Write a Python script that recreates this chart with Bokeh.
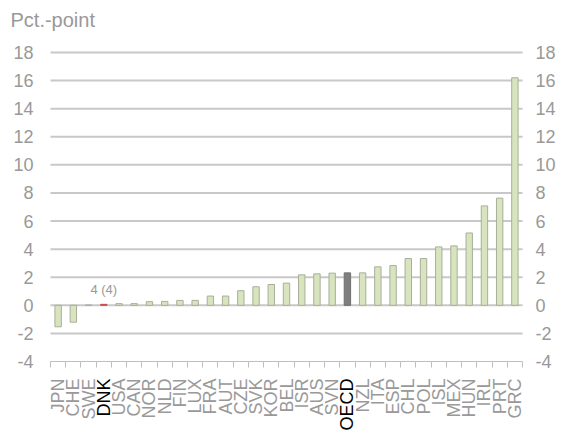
import math
from bokeh.plotting import figure
from bokeh.models import Range1d, FixedTicker, LinearAxis, Label
from bokeh.embed import file_html
from bokeh.resources import INLINE

countries = ["JPN", "CHE", "SWE", "DNK", "USA", "CAN", "NOR", "NLD", "FIN", "LUX",
             "FRA", "AUT", "CZE", "SVK", "KOR", "BEL", "ISR", "AUS", "SVN", "OECD",
             "NZL", "ITA", "ESP", "CHL", "POL", "ISL", "MEX", "HUN", "IRL", "PRT", "GRC"]
values = [-1.53, -1.2, 0.02, 0.07, 0.12, 0.12, 0.26, 0.28, 0.35, 0.35,
          0.66, 0.66, 1.04, 1.32, 1.48, 1.58, 2.17, 2.24, 2.29, 2.31,
          2.31, 2.74, 2.83, 3.33, 3.33, 4.16, 4.23, 5.15, 7.08, 7.63, 16.2]
y_ticks = [-4, -2, 0, 2, 4, 6, 8, 10, 12, 14, 16, 18]
highlight = {"DNK": "#c0504d", "OECD": "#7f7f7f", "SWE": "#bfbfbf"}
black_labels = ["DNK", "OECD"]
annotation_text = "4 (4)"
annotation_country = "DNK"
annotation_value = 1.1
unit_label = "Pct.-point"

GRAY = "#999999"
FONT = "Liberation Sans"

# layout (screen pixels)
W, H = 565, 430
LEFT, RIGHT = 50, 522      # plot area edges
TOP, BOTTOM = 52, 361      # pixel rows of the top and bottom y ticks
n = len(countries)
ppc = (RIGHT - LEFT) / n
ppu = (BOTTOM - TOP) / (y_ticks[-1] - y_ticks[0])
x_lo, x_hi = -0.5, n - 0.5
x_range = Range1d(x_lo - LEFT / ppc, x_hi + (W - RIGHT) / ppc)
y_range = Range1d(y_ticks[0] - (H - BOTTOM) / ppu, y_ticks[-1] + TOP / ppu)

xs = list(range(n))
fills = [highlight.get(c, "#d7e4bd") for c in countries]
lines = ["#6f6f6f" if c == "OECD" else ("#c0504d" if c == "DNK" else "#a9ae9a") for c in countries]

p = figure(width=W, height=H, output_backend="svg", toolbar_location=None,
           x_range=x_range, y_range=y_range,
           min_border_left=0, min_border_right=0, min_border_top=0, min_border_bottom=0)
p.outline_line_color = None
p.background_fill_color = "white"
p.border_fill_color = "white"
p.grid.visible = False

# horizontal gridlines limited to the plot area
grid_y = y_ticks[1:]
p.segment(x0=[x_lo] * len(grid_y), x1=[x_hi] * len(grid_y), y0=grid_y, y1=grid_y,
          line_color="#c8c8c8", line_width=2, level="underlay")
# category axis line
p.segment(x0=[x_lo], x1=[x_hi], y0=[y_ticks[0]], y1=[y_ticks[0]],
          line_color="#bfbfbf", line_width=1, level="underlay")

p.vbar(x=xs, top=values, bottom=0, width=0.42, fill_color=fills, line_color=lines, line_width=1)

minor = [i - 0.5 for i in range(n + 1)]

# x axis (gray labels), drawn at value -4
xa = p.xaxis[0]
xa.fixed_location = y_ticks[0]
xa.ticker = FixedTicker(ticks=xs, minor_ticks=minor)
xa.major_label_overrides = {i: ("" if c in black_labels else c) for i, c in enumerate(countries)}
xa.axis_line_color = None
xa.minor_tick_line_color = "#bfbfbf"
xa.major_label_text_color = GRAY

# overlay axis (black labels)
xb = LinearAxis(fixed_location=y_ticks[0], ticker=FixedTicker(ticks=xs, minor_ticks=minor))
xb.major_label_overrides = {i: (c if c in black_labels else "") for i, c in enumerate(countries)}
xb.axis_line_color = None
xb.minor_tick_line_color = None
xb.major_label_text_color = "black"
p.add_layout(xb, "below")

for ax in (xa, xb):
    ax.major_label_orientation = math.pi / 2
    ax.major_label_text_font = FONT
    ax.major_label_text_font_size = "18px"
    ax.major_label_standoff = 11
    ax.major_tick_line_color = None
    ax.major_tick_in = 0
    ax.major_tick_out = 6
    ax.minor_tick_in = 0
    ax.minor_tick_out = 6

# y axes, fixed at the plot-area edges
ya = p.yaxis[0]
ya.fixed_location = x_lo
yr = LinearAxis(fixed_location=x_hi)
p.add_layout(yr, "right")
for ax in (ya, yr):
    ax.ticker = FixedTicker(ticks=y_ticks)
    ax.major_label_overrides = {t: str(t) for t in y_ticks}
    ax.axis_line_color = None
    ax.major_tick_line_color = None
    ax.minor_tick_line_color = None
    ax.major_tick_in = 0
    ax.major_tick_out = 0
    ax.minor_tick_in = 0
    ax.minor_tick_out = 0
    ax.major_label_text_font = FONT
    ax.major_label_text_font_size = "18px"
    ax.major_label_text_color = GRAY
ya.major_label_standoff = 17
yr.major_label_standoff = 13

# unit label at the top left
p.add_layout(Label(x=x_lo - 40 / ppc, y=y_ticks[-1] + 33 / ppu, text=unit_label,
                   text_align="left", text_baseline="middle",
                   text_font=FONT, text_font_size="20px", text_color=GRAY))

p.add_layout(Label(x=countries.index(annotation_country), y=annotation_value,
                   text=annotation_text, text_align="center", text_baseline="middle",
                   text_font=FONT, text_font_size="13px", text_color=GRAY))

open("out.html", "w").write(file_html(p, INLINE))
